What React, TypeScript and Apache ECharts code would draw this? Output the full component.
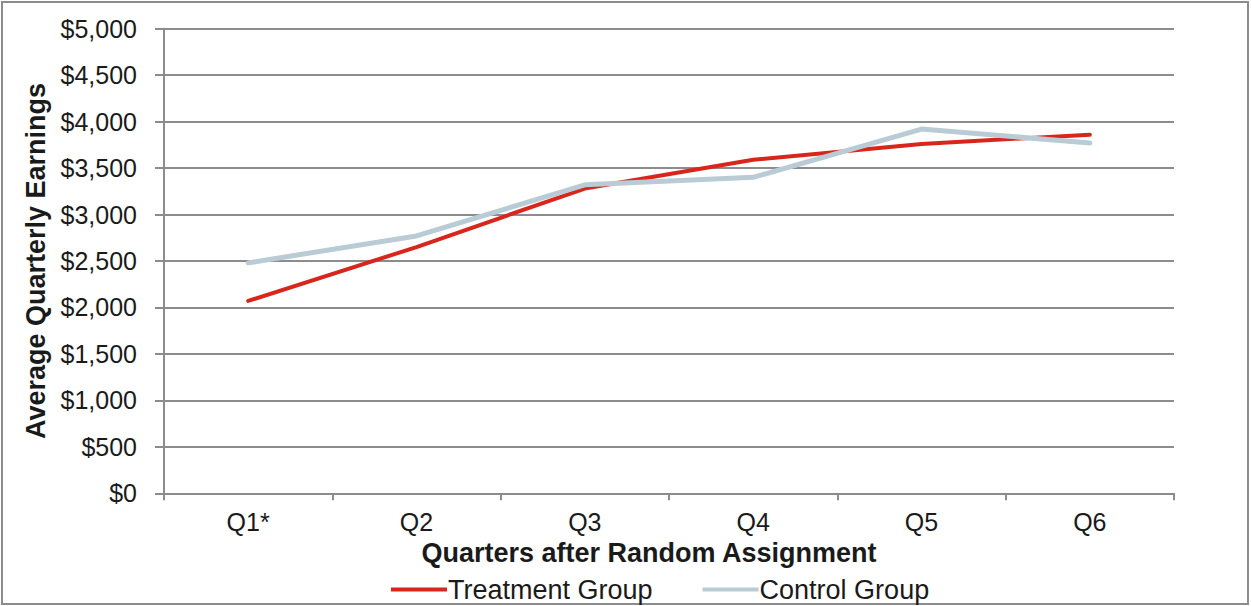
import React, { useEffect, useRef } from "react";
import * as echarts from "echarts";

const categories = ["Q1*", "Q2", "Q3", "Q4", "Q5", "Q6"];
const treatment = [2070, 2650, 3280, 3590, 3760, 3860];
const control = [2480, 2770, 3320, 3400, 3920, 3770];
const yTicks = { min: 0, max: 5000, interval: 500 };

const FONT = "'Liberation Sans', Arial, sans-serif";
const GRAY = "#8c8c8c";

export default function App() {
  const ref = useRef<HTMLDivElement>(null);
  useEffect(() => {
    if (!ref.current) return;
    const chart = echarts.init(ref.current, undefined, { renderer: "svg" });
    chart.setOption({
      animation: false,
      backgroundColor: "#ffffff",
      textStyle: { fontFamily: FONT },
      graphic: [
        {
          type: "rect",
          shape: { x: 2, y: 2, width: 1246, height: 602 },
          style: { fill: "none", stroke: GRAY, lineWidth: 2 },
          silent: true,
        },
      ],
      grid: { left: 164, right: 77, top: 28.7, bottom: 112.7, containLabel: false },
      legend: {
        left: 386,
        top: 571,
        icon: "rect",
        itemWidth: 56,
        itemHeight: 4,
        itemGap: 50,
        textStyle: { fontFamily: FONT, fontSize: 27, color: "#1a1a1a", padding: [0, 0, 0, -4] },
        data: ["Treatment Group", "Control Group"],
      },
      xAxis: {
        type: "category",
        data: categories,
        boundaryGap: true,
        axisLine: { show: true, lineStyle: { color: GRAY, width: 2 } },
        axisTick: { show: true, length: 7, lineStyle: { color: GRAY, width: 2 } },
        axisLabel: { fontFamily: FONT, fontSize: 25, color: "#1a1a1a", margin: 16 },
        name: "Quarters after Random Assignment",
        nameLocation: "middle",
        nameGap: 46,
        nameTextStyle: {
          fontFamily: FONT,
          fontSize: 27,
          fontWeight: "bold",
          color: "#1a1a1a",
          padding: [0, 40, 0, 0],
        },
      },
      yAxis: {
        type: "value",
        min: yTicks.min,
        max: yTicks.max,
        interval: yTicks.interval,
        axisLine: { show: true, lineStyle: { color: GRAY, width: 2 } },
        axisTick: { show: true, length: 9, lineStyle: { color: GRAY, width: 2 } },
        splitLine: { show: true, lineStyle: { color: GRAY, width: 2 } },
        axisLabel: {
          fontFamily: FONT,
          fontSize: 25,
          color: "#1a1a1a",
          margin: 27,
          formatter: (v: number) => "$" + v.toLocaleString("en-US"),
        },
        name: "Average Quarterly Earnings",
        nameLocation: "middle",
        nameGap: 113,
        nameTextStyle: { fontFamily: FONT, fontSize: 27, fontWeight: "bold", color: "#1a1a1a" },
      },
      series: [
        {
          name: "Treatment Group",
          type: "line",
          data: treatment,
          symbol: "none",
          color: "#d9261c",
          lineStyle: { color: "#d9261c", width: 4, cap: "round", join: "round" },
        },
        {
          name: "Control Group",
          type: "line",
          data: control,
          symbol: "none",
          color: "#b9cbd5",
          lineStyle: { color: "#b9cbd5", width: 5, cap: "round", join: "round" },
        },
      ],
    });
    return () => chart.dispose();
  }, []);
  return (
    <div
      ref={ref}
      style={{ position: "fixed", left: 0, top: 0, width: 1251, height: 606 }}
    />
  );
}
